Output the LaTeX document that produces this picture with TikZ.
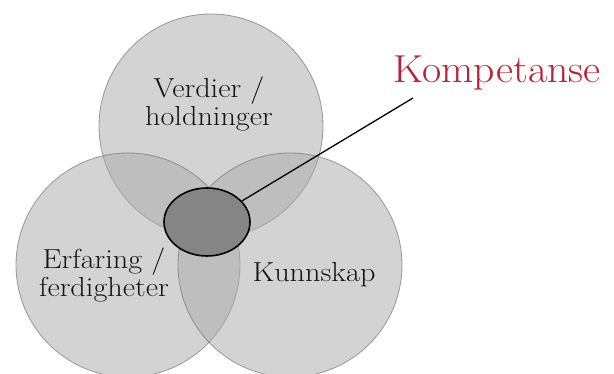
\documentclass[tikz,border=0pt]{standalone}
\usepackage{tikz}
\usetikzlibrary{shapes.geometric}
\definecolor{ring}{HTML}{ABABAB}
\definecolor{rim}{HTML}{6E6E6E}
\definecolor{kjernefarge}{HTML}{858585}
\definecolor{kred}{HTML}{BE1E34}
\definecolor{ink}{HTML}{141414}
\newcommand\bred[1]{\scalebox{1.1}[1]{#1}}
\tikzset{
  area/.style={circle, minimum size=224pt, inner sep=0pt, fill=ring, fill opacity=0.52, draw=rim, draw opacity=0.65, line width=0.8pt},
  kjerne/.style={ellipse, minimum width=86pt, minimum height=68pt, inner sep=0pt, fill=kjernefarge, draw=black, line width=1.6pt},
  lab/.style={font=\fontsize{27.5}{28.5}\selectfont, align=center, inner sep=0pt, text=ink},
  tittel/.style={font=\fontsize{39}{40}\selectfont, text=kred, inner sep=0pt},
  pil/.style={draw=black, line width=1.3pt},
}

\begin{document}
\begin{tikzpicture}[x=1pt,y=-1pt]
  \useasboundingbox (0,0) rectangle (614,374);
  \clip (0,0) rectangle (614,374);
  % de tre omraadene
  \node[area] (verdier) at (211,126) {};
  \node[area] (erfaring) at (128,265) {};
  \node[area] (kunnskap) at (290,265) {};
  \node[lab] (tverdier) at (209,104) {\bred{Verdier /}\\\bred{holdninger}};
  \node[lab] (terfaring) at (104,275) {\bred{Erfaring /}\\\bred{ferdigheter}};
  \node[lab,anchor=base] (tkunnskap) at (314,282) {\bred{Kunnskap}};
  % kjernen og pila
  \node[kjerne] (kjerne) at (207,222) {};
  \coordinate (spiss) at (413,98);
  \draw[pil] (kjerne) -- (spiss);
  \node[tittel,anchor=base] (kompetanse) at (497,83) {\scalebox{1.07}[1]{Kompetanse}};
\end{tikzpicture}
\end{document}
